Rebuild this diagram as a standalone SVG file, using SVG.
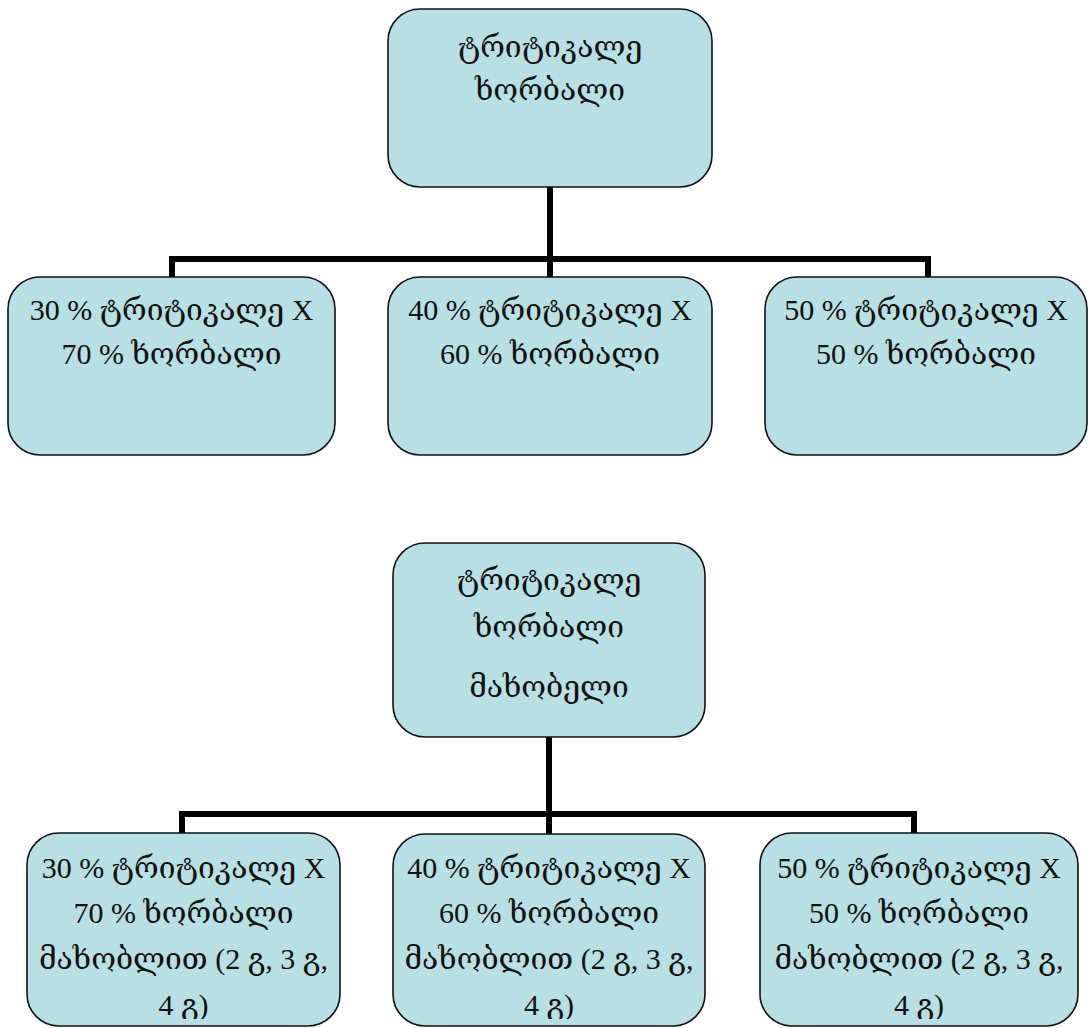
<svg xmlns="http://www.w3.org/2000/svg" width="1088" height="1028" viewBox="0 0 1088 1028">
<defs>
<style>
.box{fill:#b8dfe3;stroke:#111;stroke-width:1.6}
.t{font-family:"Liberation Serif","DejaVu Serif",serif;font-size:30px;fill:#111;text-anchor:middle}
.conn{fill:none;stroke:#000;stroke-width:6;stroke-linejoin:miter}
</style>
<clipPath id="clipBottom"><rect x="0" y="0" width="1088" height="1019"/></clipPath>
</defs>
<rect width="1088" height="1028" fill="#fff"/>
<g id="connectors">
<path class="conn" d="M550 187 V259 M172 277 V259 H928 V277 M550 259 V277"/>
<path class="conn" d="M549 737 V814 M182 834 V814 H914 V834 M549 814 V834"/>
</g>
<g id="root1">
<rect class="box" x="388" y="9" width="324" height="178" rx="32"/>
<text class="t" x="550" y="57">ტრიტიკალე</text>
<text class="t" x="550" y="100">ხორბალი</text>
</g>
<g id="a30">
<rect class="box" x="8" y="277" width="327" height="178" rx="32"/>
<text class="t" x="171.5" y="320">30 % ტრიტიკალე X</text>
<text class="t" x="171.5" y="364">70 % ხორბალი</text>
</g>
<g id="a40">
<rect class="box" x="388" y="277" width="324" height="178" rx="32"/>
<text class="t" x="550" y="320">40 % ტრიტიკალე X</text>
<text class="t" x="550" y="364">60 % ხორბალი</text>
</g>
<g id="a50">
<rect class="box" x="765" y="277" width="322" height="178" rx="32"/>
<text class="t" x="926" y="320">50 % ტრიტიკალე X</text>
<text class="t" x="926" y="364">50 % ხორბალი</text>
</g>
<g id="root2">
<rect class="box" x="393" y="543" width="312" height="194" rx="32"/>
<text class="t" x="549" y="590">ტრიტიკალე</text>
<text class="t" x="549" y="637">ხორბალი</text>
<text class="t" x="549" y="697">მახობელი</text>
</g>
<g id="b30">
<rect class="box" x="27" y="833" width="313" height="193" rx="32"/>
<g clip-path="url(#clipBottom)">
<text class="t" x="183.5" y="878">30 % ტრიტიკალე X</text>
<text class="t" x="183.5" y="923">70 % ხორბალი</text>
<text class="t" x="183.5" y="969">მახობლით (2 გ, 3 გ,</text>
<text class="t" x="183.5" y="1015">4 გ)</text>
</g>
</g>
<g id="b40">
<rect class="box" x="393" y="834" width="312" height="192" rx="32"/>
<g clip-path="url(#clipBottom)">
<text class="t" x="549" y="878">40 % ტრიტიკალე X</text>
<text class="t" x="549" y="923">60 % ხორბალი</text>
<text class="t" x="549" y="969">მახობლით (2 გ, 3 გ,</text>
<text class="t" x="549" y="1015">4 გ)</text>
</g>
</g>
<g id="b50">
<rect class="box" x="760" y="833" width="318" height="193" rx="32"/>
<g clip-path="url(#clipBottom)">
<text class="t" x="919" y="878">50 % ტრიტიკალე X</text>
<text class="t" x="919" y="923">50 % ხორბალი</text>
<text class="t" x="919" y="969">მახობლით (2 გ, 3 გ,</text>
<text class="t" x="919" y="1015">4 გ)</text>
</g>
</g>
</svg>
